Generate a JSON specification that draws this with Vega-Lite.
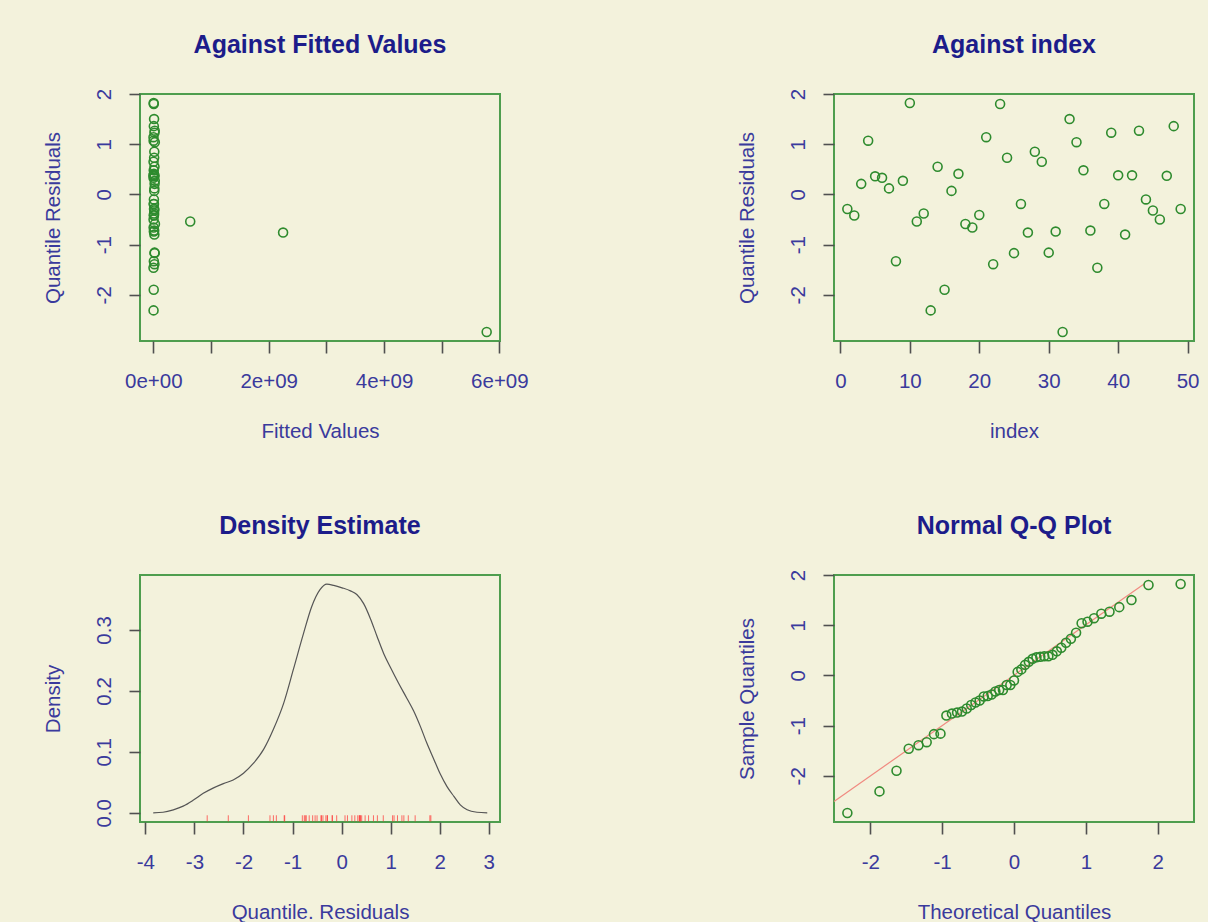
{
  "$schema": "https://vega.github.io/schema/vega-lite/v6.json",
  "background": "#f3f2dc",
  "padding": {"left": 42, "top": 32, "right": 20, "bottom": 10},
  "bounds": "flush",
  "columns": 2,
  "spacing": {"row": 234, "column": 334},
  "datasets": {
    "res": [
      {"i": 1, "fitted": 15000000, "r": -0.29},
      {"i": 2, "fitted": 8000000, "r": -0.42},
      {"i": 3, "fitted": 22000000, "r": 0.21},
      {"i": 4, "fitted": 5000000, "r": 1.07},
      {"i": 5, "fitted": 11000000, "r": 0.36},
      {"i": 6, "fitted": 3000000, "r": 0.33},
      {"i": 7, "fitted": 18000000, "r": 0.12},
      {"i": 8, "fitted": 9000000, "r": -1.33},
      {"i": 9, "fitted": 25000000, "r": 0.27},
      {"i": 10, "fitted": 6000000, "r": 1.82},
      {"i": 11, "fitted": 640000000, "r": -0.54},
      {"i": 12, "fitted": 13000000, "r": -0.38},
      {"i": 13, "fitted": 4000000, "r": -2.31},
      {"i": 14, "fitted": 20000000, "r": 0.55},
      {"i": 15, "fitted": 7000000, "r": -1.9},
      {"i": 16, "fitted": 16000000, "r": 0.07},
      {"i": 17, "fitted": 10000000, "r": 0.41},
      {"i": 18, "fitted": 28000000, "r": -0.59},
      {"i": 19, "fitted": 5000000, "r": -0.66},
      {"i": 20, "fitted": 12000000, "r": -0.41},
      {"i": 21, "fitted": 3000000, "r": 1.14},
      {"i": 22, "fitted": 19000000, "r": -1.39},
      {"i": 23, "fitted": 8000000, "r": 1.8},
      {"i": 24, "fitted": 14000000, "r": 0.73},
      {"i": 25, "fitted": 23000000, "r": -1.17},
      {"i": 26, "fitted": 6000000, "r": -0.19},
      {"i": 27, "fitted": 2250000000, "r": -0.76},
      {"i": 28, "fitted": 17000000, "r": 0.85},
      {"i": 29, "fitted": 4000000, "r": 0.65},
      {"i": 30, "fitted": 21000000, "r": -1.16},
      {"i": 31, "fitted": 9000000, "r": -0.74},
      {"i": 32, "fitted": 5780000000, "r": -2.74},
      {"i": 33, "fitted": 13000000, "r": 1.5},
      {"i": 34, "fitted": 26000000, "r": 1.04},
      {"i": 35, "fitted": 7000000, "r": 0.48},
      {"i": 36, "fitted": 15000000, "r": -0.72},
      {"i": 37, "fitted": 3000000, "r": -1.46},
      {"i": 38, "fitted": 11000000, "r": -0.19},
      {"i": 39, "fitted": 20000000, "r": 1.23},
      {"i": 40, "fitted": 8000000, "r": 0.38},
      {"i": 41, "fitted": 18000000, "r": -0.8},
      {"i": 42, "fitted": 5000000, "r": 0.38},
      {"i": 43, "fitted": 24000000, "r": 1.27},
      {"i": 44, "fitted": 10000000, "r": -0.1},
      {"i": 45, "fitted": 16000000, "r": -0.32},
      {"i": 46, "fitted": 4000000, "r": -0.5},
      {"i": 47, "fitted": 22000000, "r": 0.37},
      {"i": 48, "fitted": 9000000, "r": 1.36},
      {"i": 49, "fitted": 12000000, "r": -0.29}
    ],
    "dens": [
      {"x": -3.84, "d": 0.0},
      {"x": -3.64, "d": 0.001},
      {"x": -3.43, "d": 0.005},
      {"x": -3.23, "d": 0.011},
      {"x": -3.02, "d": 0.021},
      {"x": -2.82, "d": 0.032},
      {"x": -2.61, "d": 0.041},
      {"x": -2.41, "d": 0.048},
      {"x": -2.21, "d": 0.054},
      {"x": -2.0, "d": 0.065},
      {"x": -1.8, "d": 0.081},
      {"x": -1.59, "d": 0.104},
      {"x": -1.39, "d": 0.137},
      {"x": -1.18, "d": 0.18},
      {"x": -0.98, "d": 0.236},
      {"x": -0.78, "d": 0.293},
      {"x": -0.61, "d": 0.338},
      {"x": -0.44, "d": 0.366},
      {"x": -0.3, "d": 0.375},
      {"x": -0.16, "d": 0.373},
      {"x": 0.01, "d": 0.369},
      {"x": 0.18, "d": 0.364},
      {"x": 0.31, "d": 0.358},
      {"x": 0.45, "d": 0.343},
      {"x": 0.59, "d": 0.318},
      {"x": 0.72, "d": 0.29},
      {"x": 0.86, "d": 0.261},
      {"x": 1.0, "d": 0.238},
      {"x": 1.16, "d": 0.213},
      {"x": 1.33, "d": 0.188},
      {"x": 1.47, "d": 0.167},
      {"x": 1.61, "d": 0.141},
      {"x": 1.74, "d": 0.114},
      {"x": 1.88, "d": 0.088},
      {"x": 2.01, "d": 0.064},
      {"x": 2.15, "d": 0.043},
      {"x": 2.29, "d": 0.027},
      {"x": 2.42, "d": 0.013},
      {"x": 2.56, "d": 0.005},
      {"x": 2.76, "d": 0.001},
      {"x": 2.97, "d": 0.0}
    ],
    "qq": [
      {"q": -2.319, "s": -2.74},
      {"q": -1.872, "s": -2.31},
      {"q": -1.635, "s": -1.9},
      {"q": -1.465, "s": -1.46},
      {"q": -1.329, "s": -1.39},
      {"q": -1.215, "s": -1.33},
      {"q": -1.114, "s": -1.17},
      {"q": -1.023, "s": -1.16},
      {"q": -0.941, "s": -0.8},
      {"q": -0.864, "s": -0.76},
      {"q": -0.792, "s": -0.74},
      {"q": -0.724, "s": -0.72},
      {"q": -0.658, "s": -0.66},
      {"q": -0.596, "s": -0.59},
      {"q": -0.536, "s": -0.54},
      {"q": -0.478, "s": -0.5},
      {"q": -0.421, "s": -0.42},
      {"q": -0.366, "s": -0.41},
      {"q": -0.312, "s": -0.38},
      {"q": -0.259, "s": -0.32},
      {"q": -0.206, "s": -0.29},
      {"q": -0.154, "s": -0.29},
      {"q": -0.102, "s": -0.19},
      {"q": -0.051, "s": -0.19},
      {"q": 0.0, "s": -0.1},
      {"q": 0.051, "s": 0.07},
      {"q": 0.102, "s": 0.12},
      {"q": 0.154, "s": 0.21},
      {"q": 0.206, "s": 0.27},
      {"q": 0.259, "s": 0.33},
      {"q": 0.312, "s": 0.36},
      {"q": 0.366, "s": 0.37},
      {"q": 0.421, "s": 0.38},
      {"q": 0.478, "s": 0.38},
      {"q": 0.536, "s": 0.41},
      {"q": 0.596, "s": 0.48},
      {"q": 0.658, "s": 0.55},
      {"q": 0.724, "s": 0.65},
      {"q": 0.792, "s": 0.73},
      {"q": 0.864, "s": 0.85},
      {"q": 0.941, "s": 1.04},
      {"q": 1.023, "s": 1.07},
      {"q": 1.114, "s": 1.14},
      {"q": 1.215, "s": 1.23},
      {"q": 1.329, "s": 1.27},
      {"q": 1.465, "s": 1.36},
      {"q": 1.635, "s": 1.5},
      {"q": 1.872, "s": 1.8},
      {"q": 2.319, "s": 1.82}
    ],
    "qqline": [
      {"q": -2.505, "s": -2.51},
      {"q": 1.82, "s": 1.83}
    ]
  },
  "config": {
    "view": {"stroke": "#4e9e4e", "strokeWidth": 2, "fill": null},
    "font": "Liberation Sans",
    "title": {"font": "Liberation Sans", "fontSize": 25, "fontWeight": "bold", "color": "#1c1c8a", "anchor": "middle", "baseline": "alphabetic", "offset": 36, "frame": "group"},
    "axis": {"domain": false, "grid": false, "ticks": true, "tickColor": "#505050", "tickWidth": 1.6, "tickSize": 12, "labelFont": "Liberation Sans", "labelFontSize": 20.5, "labelColor": "#3a3a9c", "titleFont": "Liberation Sans", "titleFontSize": 20.5, "titleFontWeight": "normal", "titleColor": "#3a3a9c", "labelPadding": 18, "labelOverlap": false, "labelFlush": false, "labelExpr": "'' + datum.value"},
    "axisLeft": {"labelAngle": 270, "labelAlign": "center", "labelBaseline": "middle", "labelPadding": 25, "tickSize": 11, "titleAngle": 270, "titleX": -87, "titleY": 123.5, "titleAlign": "center", "titleBaseline": "middle"},
    "axisBottom": {"titleX": 180, "titleY": 90, "titleAlign": "center", "titleBaseline": "middle"}
  },
  "concat": [
    {
      "width": 360, "height": 247,
      "title": {"text": "Against Fitted Values", "frame": "group", "offset": 30},
      "layer": [
        {
          "data": {"name": "res"},
          "mark": {"type": "point", "shape": "circle", "filled": false, "color": "#2e8b2e", "size": 80, "strokeWidth": 1.6, "opacity": 1},
          "encoding": {
            "x": {"field": "fitted", "type": "quantitative", "scale": {"domain": [-231000000, 6011000000], "nice": false, "zero": false},
                  "axis": {"title": "Fitted Values", "values": [0, 1000000000, 2000000000, 3000000000, 4000000000, 5000000000, 6000000000],
                           "labelExpr": "datum.value % 2000000000 == 0 ? (datum.value == 0 ? '0e+00' : (datum.value / 1000000000) + 'e+09') : ''"}},
            "y": {"field": "r", "type": "quantitative", "scale": {"domain": [-2.92, 2.0], "nice": false, "zero": false},
                  "axis": {"title": "Quantile Residuals", "values": [-2, -1, 0, 1, 2]}}
          }
        },
        {
          "mark": {"type": "rule", "color": "#4a4a4a", "strokeWidth": 1.3},
          "encoding": {"x": {"datum": -231000000}, "y": {"datum": -2}, "y2": {"datum": 2}}
        },
        {
          "mark": {"type": "rule", "color": "#4a4a4a", "strokeWidth": 1.3},
          "encoding": {"y": {"datum": -2.92}, "x": {"datum": 0}, "x2": {"datum": 6000000000}}
        }
      ]
    },
    {
      "width": 360, "height": 247,
      "title": {"text": "Against  index", "frame": "group", "offset": 30},
      "layer": [
        {
          "data": {"name": "res"},
          "mark": {"type": "point", "shape": "circle", "filled": false, "color": "#2e8b2e", "size": 80, "strokeWidth": 1.6, "opacity": 1},
          "encoding": {
            "x": {"field": "i", "type": "quantitative", "scale": {"domain": [-0.92, 50.92], "nice": false, "zero": false},
                  "axis": {"title": "index", "values": [0, 10, 20, 30, 40, 50]}},
            "y": {"field": "r", "type": "quantitative", "scale": {"domain": [-2.92, 2.0], "nice": false, "zero": false},
                  "axis": {"title": "Quantile Residuals", "values": [-2, -1, 0, 1, 2]}}
          }
        },
        {
          "mark": {"type": "rule", "color": "#4a4a4a", "strokeWidth": 1.3},
          "encoding": {"x": {"datum": -0.92}, "y": {"datum": -2}, "y2": {"datum": 2}}
        },
        {
          "mark": {"type": "rule", "color": "#4a4a4a", "strokeWidth": 1.3},
          "encoding": {"y": {"datum": -2.92}, "x": {"datum": 0}, "x2": {"datum": 50}}
        }
      ]
    },
    {
      "width": 360, "height": 247,
      "title": {"text": "Density Estimate", "frame": "group", "offset": 36},
      "layer": [
        {
          "data": {"name": "dens"},
          "mark": {"type": "line", "color": "#555555", "strokeWidth": 1.2, "interpolate": "monotone"},
          "encoding": {
            "x": {"field": "x", "type": "quantitative", "scale": {"domain": [-4.11, 3.23], "nice": false, "zero": false},
                  "axis": {"title": "Quantile. Residuals", "values": [-4, -3, -2, -1, 0, 1, 2, 3]}},
            "y": {"field": "d", "type": "quantitative", "scale": {"domain": [-0.015, 0.39], "nice": false, "zero": false},
                  "axis": {"title": "Density", "values": [0, 0.1, 0.2, 0.3], "labelExpr": "format(datum.value, '.1f')"}}
          }
        },
        {
          "mark": {"type": "rule", "color": "#e6e5d2", "strokeWidth": 1.5},
          "encoding": {"y": {"datum": 0}}
        },
        {
          "data": {"name": "res"},
          "mark": {"type": "rule", "color": "#ff3030", "strokeWidth": 1, "opacity": 0.7},
          "encoding": {
            "x": {"field": "r", "type": "quantitative"},
            "y": {"datum": -0.014},
            "y2": {"datum": -0.004}
          }
        },
        {
          "mark": {"type": "rule", "color": "#4a4a4a", "strokeWidth": 1.3},
          "encoding": {"x": {"datum": -4.11}, "y": {"datum": 0}, "y2": {"datum": 0.3}}
        },
        {
          "mark": {"type": "rule", "color": "#4a4a4a", "strokeWidth": 1.3},
          "encoding": {"y": {"datum": -0.015}, "x": {"datum": -4}, "x2": {"datum": 3}}
        }
      ]
    },
    {
      "width": 360, "height": 247,
      "title": {"text": "Normal Q-Q Plot", "frame": "group", "offset": 30},
      "layer": [
        {
          "data": {"name": "qqline"},
          "mark": {"type": "line", "color": "#f08a80", "strokeWidth": 1.2},
          "encoding": {
            "x": {"field": "q", "type": "quantitative", "scale": {"domain": [-2.505, 2.505], "nice": false, "zero": false},
                  "axis": {"title": "Theoretical Quantiles", "values": [-2, -1, 0, 1, 2]}},
            "y": {"field": "s", "type": "quantitative", "scale": {"domain": [-2.92, 2.0], "nice": false, "zero": false},
                  "axis": {"title": "Sample Quantiles", "values": [-2, -1, 0, 1, 2]}}
          }
        },
        {
          "data": {"name": "qq"},
          "mark": {"type": "point", "shape": "circle", "filled": false, "color": "#2e8b2e", "size": 80, "strokeWidth": 1.6, "opacity": 1},
          "encoding": {
            "x": {"field": "q", "type": "quantitative"},
            "y": {"field": "s", "type": "quantitative"}
          }
        },
        {
          "mark": {"type": "rule", "color": "#4a4a4a", "strokeWidth": 1.3},
          "encoding": {"x": {"datum": -2.505}, "y": {"datum": -2}, "y2": {"datum": 2}}
        },
        {
          "mark": {"type": "rule", "color": "#4a4a4a", "strokeWidth": 1.3},
          "encoding": {"y": {"datum": -2.92}, "x": {"datum": -2}, "x2": {"datum": 2}}
        }
      ]
    }
  ]
}
